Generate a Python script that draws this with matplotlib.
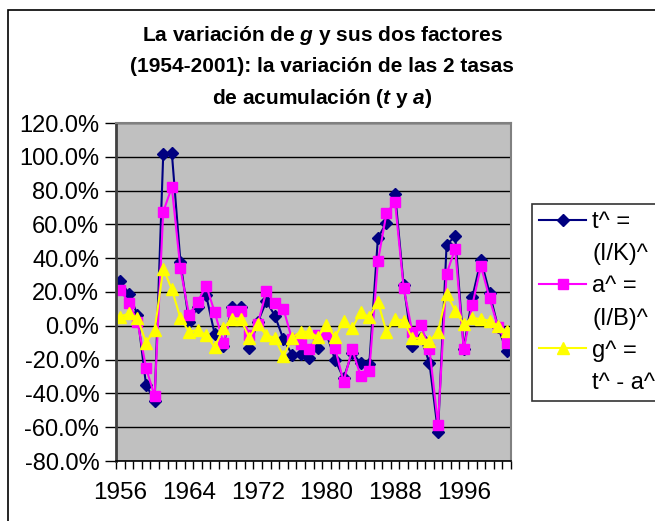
#!/usr/bin/env python3
import matplotlib

matplotlib.use("Agg")
import matplotlib.pyplot as plt
import numpy as np
from matplotlib.lines import Line2D
from matplotlib.patches import Rectangle
from matplotlib.ticker import FixedLocator, FuncFormatter

# Years shown on the category axis (1956-2001)
years = list(range(1956, 2002))

# t^ = (I/K)^  variation, in %
t_hat = [26.5, 19.0, 6.5, -35.0, -44.5, 101.5, 102.5, 38.0, 2.5, 11.0,
         18.0, -5.0, -12.0, 11.0, 11.0, -13.0, 2.0, 14.5, 6.0, -8.0,
         -17.0, -16.5, -19.0, -13.0, -4.5, -20.0, -31.0, -16.0, -22.0, -22.5,
         52.0, 61.0, 78.0, 24.0, -12.0, -7.0, -22.0, -63.0, 48.0, 53.0,
         -13.5, 17.0, 39.0, 19.5, -1.0, -15.0]

# a^ = (I/B)^  variation, in %
a_hat = [21.4, 13.5, 2.5, -25.0, -41.6, 67.5, 82.0, 34.0, 6.5, 14.0,
         23.8, 8.0, -10.0, 8.5, 8.5, -5.5, 1.0, 20.3, 13.4, 10.0,
         -8.0, -11.0, -14.0, -5.5, -5.0, -13.0, -33.0, -14.0, -29.8, -26.5,
         38.2, 66.6, 73.0, 22.4, -3.6, 0.4, -13.5, -58.5, 30.8, 45.6,
         -14.0, 12.3, 35.3, 16.3, -1.0, -10.0]

# g^ = t^ - a^, in %
g_hat = [5.5, 7.3, 4.7, -9.9, -2.7, 33.8, 21.6, 4.6, -3.5, -2.5,
         -5.7, -12.6, -1.5, 4.2, 4.2, -7.0, 1.0, -5.7, -7.1, -18.1,
         -7.0, -3.5, -3.5, -6.7, 0.6, -6.7, 2.7, -1.5, 8.1, 5.0,
         14.3, -3.6, 4.0, 3.0, -7.5, -7.3, -9.0, -3.6, 18.9, 9.0,
         1.0, 4.6, 4.0, 3.0, 0.0, -3.3]

# legend labels wrap onto two lines each, as in the original
series_labels = [("t^ =", "(I/K)^"), ("a^ =", "(I/B)^"), ("g^ =", "t^ - a^")]
y_ticks = [-80, -60, -40, -20, 0, 20, 40, 60, 80, 100, 120]
label_every = 8

FONT = "Liberation Sans"


def main() -> None:
    plt.rcParams["font.family"] = [FONT, "DejaVu Sans"]
    plt.rcParams["mathtext.fontset"] = "custom"
    plt.rcParams["mathtext.it"] = f"{FONT}:italic:bold"
    plt.rcParams["mathtext.rm"] = f"{FONT}:bold"
    W, H = 655, 521
    fig = plt.figure(figsize=(W / 100, H / 100), dpi=100)

    # Chart area border (only top and left edges are visible in the crop)
    fig.patches.append(Rectangle((8 / W, -0.05), 1.2, 1 - 10 / H + 0.05,
                                 transform=fig.transFigure, fill=False,
                                 edgecolor="black", lw=1.2))

    ax = fig.add_axes([116 / W, 1 - 461 / H, (511 - 116) / W, (461 - 123) / H])
    ax.set_facecolor("#C0C0C0")

    x = np.arange(len(years))
    lt, = ax.plot(x, t_hat, color="#000080", lw=1.5, marker="D", ms=6.5,
                  mfc="#000080", mec="#000080")
    la, = ax.plot(x, a_hat, color="#FF00FF", lw=1.5, marker="s", ms=7,
                  mfc="#FF00FF", mec="#FF00FF")
    lg, = ax.plot(x, g_hat, color="#FFFF00", lw=1.5, marker="^", ms=8.5,
                  mfc="#FFFF00", mec="#FFFF00")

    ax.set_xlim(-0.5, len(years) - 0.5)
    ax.set_ylim(y_ticks[0], y_ticks[-1])
    ax.set_yticks(y_ticks)
    ax.yaxis.set_major_formatter(FuncFormatter(lambda v, pos: f"{v:.1f}%"))
    ax.grid(axis="y", color="black", lw=1.0)
    ax.set_axisbelow(True)

    lab_pos = x[::label_every]
    ax.set_xticks(lab_pos)
    ax.set_xticklabels([str(years[i]) for i in lab_pos])
    ax.xaxis.set_minor_locator(FixedLocator(np.arange(-0.5, len(years), 1.0)))
    ax.tick_params(axis="x", which="major", length=0, pad=15, labelsize=17.5)
    ax.tick_params(axis="x", which="minor", length=6, width=1, direction="out")
    ax.tick_params(axis="y", which="major", length=8, width=1, labelsize=17, pad=4)

    for side in ("top", "right"):
        ax.spines[side].set_color("#808080")
        ax.spines[side].set_linewidth(1.5)
    ax.spines["left"].set_color("#404040")
    ax.spines["left"].set_linewidth(2.0)
    ax.spines["bottom"].set_color("black")
    ax.spines["bottom"].set_linewidth(1.2)

    fig.text(322 / W, 1 - 67 / H,
             "La variación de $g$ y sus dos factores\n"
             "(1954-2001): la variación de las 2 tasas\n"
             "de acumulación ($t$ y $a$)",
             ha="center", va="center", fontsize=15, fontweight="bold",
             linespacing=1.65)

    # handle sits on the first line of each label; second line has no handle
    blank = Line2D([], [], color="none")
    handles, labels = [], []
    for h, (first, second) in zip([lt, la, lg], series_labels):
        handles += [h, blank]
        labels += [first, second]
    leg = fig.legend(handles, labels, loc="upper left",
                     bbox_to_anchor=(532 / W, 1 - 204 / H),
                     fontsize=17, frameon=True, fancybox=False,
                     edgecolor="black", handlelength=2.0, handletextpad=0.25,
                     labelspacing=0.43, borderpad=0.3, borderaxespad=0)
    leg.get_frame().set_linewidth(1.2)

    fig.savefig("out.png", dpi=100)
    plt.close(fig)


if __name__ == "__main__":
    main()
